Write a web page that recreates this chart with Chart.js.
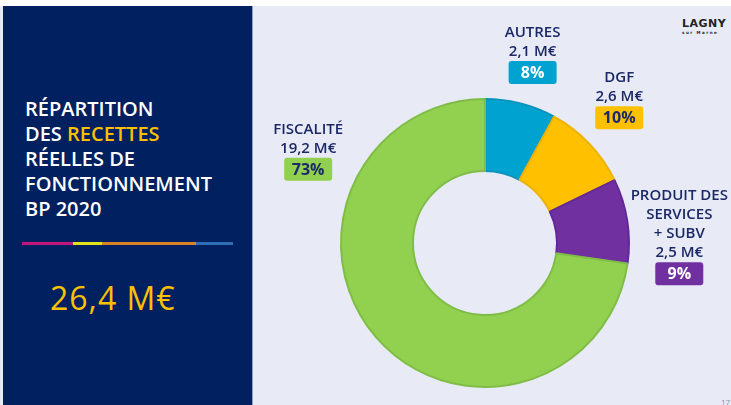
<!DOCTYPE html>
<html lang="fr">
<head>
<meta charset="utf-8">
<script src="https://cdn.jsdelivr.net/npm/chart.js@4"></script>
<style>
    body { margin: 0; width: 731px; height: 405px; overflow: hidden; background: #e8eaf6; position: relative; font-family: 'Open Sans', sans-serif; }
    .top-strip { position: absolute; left: 0; top: 0; width: 731px; height: 6px; background: #fff; }
    .panel { position: absolute; left: 3px; top: 6px; width: 249px; height: 399px; background: #002060; border-right: 1px solid #8e9fc9; }
    .titre { position: absolute; left: 25px; top: 96px; color: #fff; font-size: 20px; font-weight: 600; line-height: 25px; }
    .titre span { color: #ffc000; }
    .barre { position: absolute; left: 22px; top: 242px; height: 3px; display: flex; }
    .barre div { height: 3px; }
    .total { position: absolute; left: 50px; top: 276px; color: #ffc000; font-size: 32px; letter-spacing: 1px; }
    .logo { position: absolute; left: 682px; top: 17px; color: #222; font-family: 'DejaVu Sans', sans-serif; font-weight: bold; font-size: 11px; letter-spacing: 0.5px; }
    .logo small { display: block; font-size: 4px; letter-spacing: 1.5px; line-height: 5px; font-weight: bold; }
    .page { position: absolute; left: 721px; top: 396px; color: #8890b0; font-size: 8px; }
    canvas { position: absolute; left: 0; top: 0; }
</style>
</head>
<body>
<div class="top-strip"></div>
<div class="panel"></div>
<div class="titre">RÉPARTITION<br>DES <span>RECETTES</span><br>RÉELLES DE<br>FONCTIONNEMENT<br>BP 2020</div>
<div class="barre">
    <div style="width:51px;background:#c2187d"></div>
    <div style="width:29px;background:#e3e01c"></div>
    <div style="width:94px;background:#d98228"></div>
    <div style="width:37px;background:#2f6db5"></div>
</div>
<div class="total" id="total"></div>
<div class="logo">LAGNY<small>sur Marne</small></div>
<div class="page">17</div>
<canvas id="recettesChart" width="731" height="405"></canvas>
<script>
// Données (M€)
const categories = ['AUTRES', 'DGF', 'PRODUIT DES\nSERVICES\n+ SUBV', 'FISCALITÉ'];
const values = [2.1, 2.6, 2.5, 19.2];

const couleurs = ['#00a3d0', '#ffc000', '#7030a0', '#92d050'];
const bordures = ['#0a93bd', '#eeb200', '#62289a', '#7fbd46'];
const couleursPct = ['#ffffff', '#1c2a6b', '#ffffff', '#1c2a6b'];
// décalage des étiquettes par rapport au milieu extérieur de chaque part
const decalages = [[12, -31], [30, -26], [52, 53], [-68, -168]];

const total = values.reduce((a, b) => a + b, 0);
const fmt = v => v.toFixed(1).replace('.', ',') + ' M€';
document.getElementById('total').textContent = fmt(total);

const etiquettes = {
    id: 'etiquettes',
    afterDraw(chart) {
        const ctx = chart.ctx;
        const meta = chart.getDatasetMeta(0);
        meta.data.forEach((arc, i) => {
            const p = arc.getProps(['x', 'y', 'startAngle', 'endAngle', 'outerRadius'], true);
            const mid = (p.startAngle + p.endAngle) / 2;
            const bx = p.x + Math.cos(mid) * p.outerRadius + decalages[i][0];
            const by = p.y + Math.sin(mid) * p.outerRadius + decalages[i][1];

            const lignes = categories[i].split('\n').concat([fmt(values[i])]);
            ctx.save();
            ctx.textAlign = 'center';
            ctx.textBaseline = 'middle';
            ctx.fillStyle = '#1a2866';
            ctx.font = '600 15px "Open Sans"';
            lignes.forEach((l, k) => {
                const ly = by - 21 - (lignes.length - 1 - k) * 19;
                ctx.fillText(l, bx, ly);
            });

            // boîte du pourcentage
            const w = 48, h = 23;
            ctx.fillStyle = couleurs[i];
            ctx.beginPath();
            ctx.roundRect(bx - w / 2, by - h / 2, w, h, 3);
            ctx.fill();
            ctx.fillStyle = couleursPct[i];
            ctx.font = 'bold 16px "Open Sans"';
            ctx.fillText(Math.round(values[i] / total * 100) + '%', bx, by + 1);
            ctx.restore();
        });
    }
};

new Chart(document.getElementById('recettesChart'), {
    type: 'doughnut',
    data: {
        labels: categories,
        datasets: [{
            data: values,
            backgroundColor: couleurs,
            borderColor: bordures,
            borderWidth: 2,
            hoverOffset: 0
        }]
    },
    options: {
        responsive: false,
        animation: false,
        cutout: '50%',
        layout: { padding: { left: 340, right: 101, top: 98, bottom: 17 } },
        plugins: {
            legend: { display: false },
            tooltip: { enabled: false }
        }
    },
    plugins: [etiquettes]
});
</script>
</body>
</html>
